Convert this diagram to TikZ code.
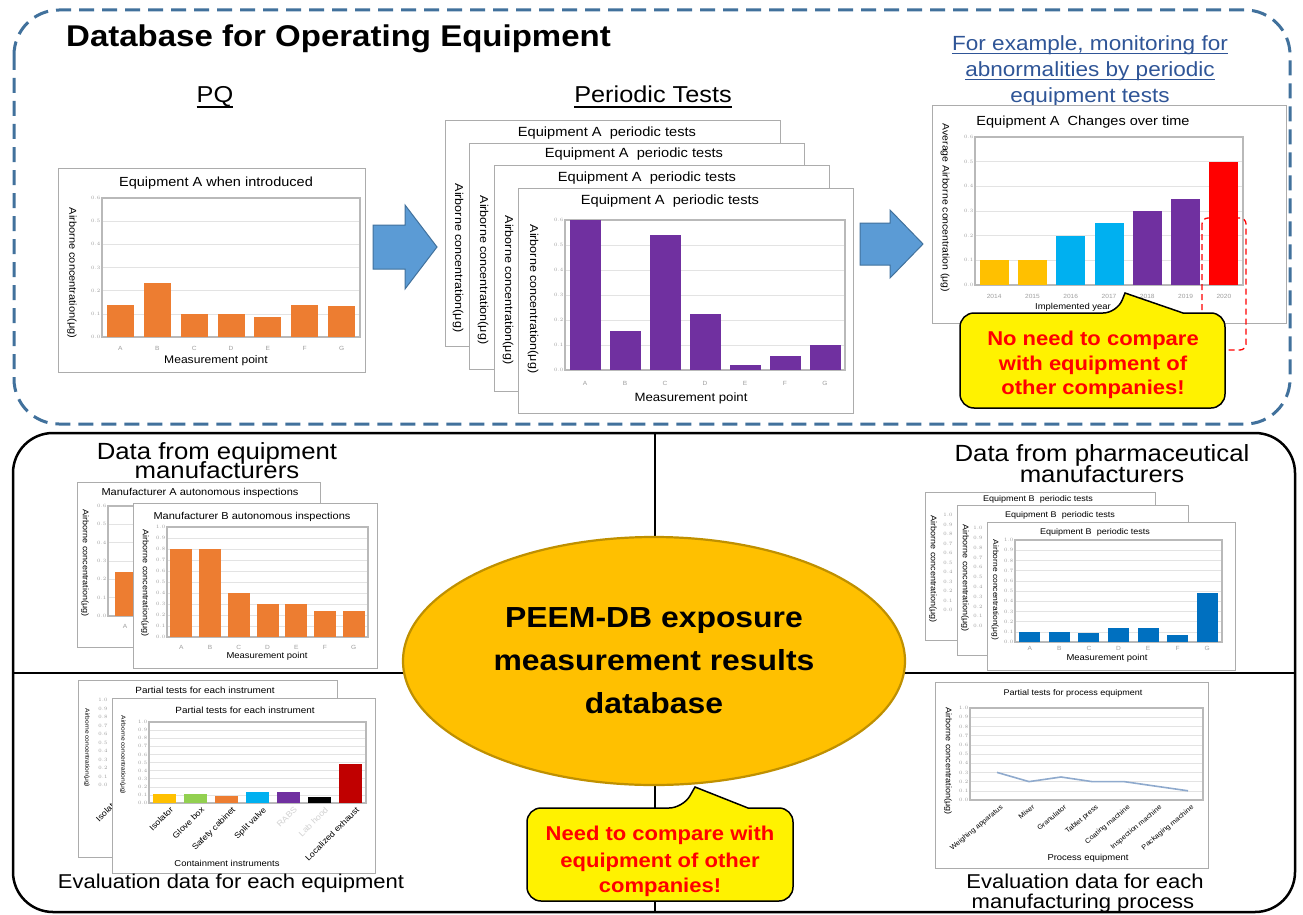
\documentclass[tikz,border=0pt]{standalone}
\usepackage{fontspec}
\setmainfont{Liberation Sans}[FakeStretch=1.1]
\usetikzlibrary{shapes.geometric}
\definecolor{dashblue}{RGB}{65,113,156}
\definecolor{arrowfill}{RGB}{91,155,213}
\definecolor{linkblue}{RGB}{47,85,151}
\definecolor{barGold}{RGB}{255,192,0}
\definecolor{golddark}{RGB}{191,144,0}
\definecolor{barorange}{RGB}{237,125,49}
\definecolor{barpurple}{RGB}{112,48,160}
\definecolor{barblue}{RGB}{0,112,192}
\definecolor{barcyan}{RGB}{0,176,240}
\definecolor{bargreen}{RGB}{146,208,80}
\definecolor{bardred}{RGB}{192,0,0}
\definecolor{linegray}{RGB}{143,170,205}
\newcommand{\fs}[1]{\fontsize{#1}{#1}\selectfont}
\tikzset{
  chartframe/.style={fill=white, draw=gray!65, line width=0.9pt},
  axisbox/.style={draw=gray!55, line width=1.2pt},
  gridl/.style={draw=gray!22, line width=0.6pt},
  ytick/.style={font=\fs{5.3}, text=gray!80, anchor=east, inner sep=1.5pt},
  xtick/.style={font=\fs{6}, text=gray!75, inner sep=0pt},
  ylab/.style={rotate=-90, inner sep=0pt},
  ctitle/.style={inner sep=0pt},
  qhead/.style={font=\fs{23.4}, anchor=base, inner sep=0pt},
  calloutbox/.style={fill=yellow, draw=black, line width=1.5pt},
  callouttext/.style={font=\bfseries\fs{20}, text=red, anchor=base, inner sep=0pt},
  blockarrow/.style={fill=arrowfill, draw=dashblue, line width=1pt},
  linktext/.style={font=\fs{20.5}, text=linkblue, anchor=base, inner sep=0pt},
  rotlab/.style={rotate=45, anchor=north east, inner sep=0pt},
}
% plot area: x0, ytop, x1, ybottom, n gridlines, step
\newcommand{\plotarea}[6]{%
  \foreach \k in {1,...,#5}{\draw[gridl] (#1,{#4-\k*(#4-#2)/#5}) -- (#3,{#4-\k*(#4-#2)/#5});}%
  \foreach \k in {0,...,#5}{\pgfmathsetmacro\tv{\k*#6}\node[ytick] (ytk-\k) at (#1,{#4-\k*(#4-#2)/#5}) {\pgfmathprintnumber[fixed,fixed zerofill,precision=1]{\tv}};}%
  \draw[axisbox] (#1,#2) rectangle (#3,#4);%
}
% bars: x0, x1, ybottom, px per unit, bar width, label offset, list value/colour/label
\newcommand{\bars}[7]{%
  \foreach \bv/\bc/\bl [count=\bi] in {#7}{%
    \pgfmathsetmacro\xc{#1+(\bi-0.5)*(#2-#1)/7}%
    \fill[\bc] ({\xc-#5/2},#3) rectangle ({\xc+#5/2},{#3-\bv*#4});%
    \node[xtick] (xtk-\bi) at (\xc,{#3+#6}) {\bl};%
  }%
}
% column of tick labels: x, ybottom, spacing, n
\newcommand{\tickcol}[4]{%
  \foreach \k in {0,...,#4}{\pgfmathsetmacro\tv{\k*0.1}\node[ytick,anchor=center] (tc-\k) at (#1,{#2-\k*#3}) {\pgfmathprintnumber[fixed,fixed zerofill,precision=1]{\tv}};}%
}
\begin{document}
\begin{tikzpicture}[x=1pt,y=-1pt]
\useasboundingbox (0,0) rectangle (1303,915);
\fill[white] (0,0) rectangle (1303,915);

% ===== top dashed section =====
\draw[draw=dashblue, line width=3pt, dash pattern=on 15pt off 8pt, rounded corners=45pt] (14,10) rectangle (1290,424);
\node[font=\bfseries\fs{30}, anchor=base west, inner sep=0pt] (title) at (66,47) {Database for Operating Equipment};

\node[font=\fs{23}, anchor=base, inner sep=0pt] (pq) at (215,103) {PQ};
\draw[line width=1.5pt] ([yshift=-4pt]pq.base west) -- ([yshift=-4pt]pq.base east);
\node[font=\fs{23}, anchor=base, inner sep=0pt] (pt) at (653,103) {Periodic Tests};
\draw[line width=1.5pt] ([yshift=-4pt]pt.base west) -- ([yshift=-4pt]pt.base east);

\node[linktext] (l1) at (1090,51) {For example, monitoring for};
\node[linktext] (l2) at (1090,77) {abnormalities by periodic};
\node[linktext] (l3) at (1090,103) {equipment tests};
\foreach \n in {l1,l2,l3}{\draw[linkblue, line width=1pt] ([yshift=-2.5pt]\n.base west) -- ([yshift=-2.5pt]\n.base east);}

% PQ chart
\draw[chartframe] (58,168) rectangle (365,372);
\node[ctitle, font=\fs{13.2}] (pqtitle) at (216,183) {Equipment A when introduced};
\plotarea{102}{198}{360}{337}{6}{0.1}
\bars{102}{360}{337}{231.7}{27}{11}{.14/barorange/A, .235/barorange/B, .10/barorange/C, .10/barorange/D, .085/barorange/E, .14/barorange/F, .135/barorange/G}
\node[ylab, font=\fs{10}] (pqy) at (72,273) {Airborne concentration(μg)};
\node[ctitle, font=\fs{11}] (pqx) at (216,361) {Measurement point};

% arrow 1
\draw[blockarrow] (373,225) -- (405,225) -- (405,205) -- (437,247) -- (405,289) -- (405,269) -- (373,269) -- cycle;

% periodic test frames
\draw[chartframe] (445,120) rectangle (780,346);
\node[ctitle, font=\fs{13.3}] (pt1) at (607,133) {Equipment A\ \ periodic tests};
\node[ylab, font=\fs{11.4}] (py1) at (458,258) {Airborne concentration(μg)};
\draw[chartframe] (469,143) rectangle (804,369);
\node[ctitle, font=\fs{13.3}] (pt2) at (634,154) {Equipment A\ \ periodic tests};
\node[ylab, font=\fs{11.4}] (py2) at (483,270) {Airborne concentration(μg)};
\draw[chartframe] (494,165) rectangle (829,391);
\node[ctitle, font=\fs{13.3}] (pt3) at (647,178) {Equipment A\ \ periodic tests};
\node[ylab, font=\fs{11.4}] (py3) at (508,290) {Airborne concentration(μg)};
\draw[chartframe] (518,188) rectangle (853,413);
\node[ctitle, font=\fs{13.3}] (pt4) at (670,201) {Equipment A\ \ periodic tests};
\node[ylab, font=\fs{11.4}] (py4) at (533,299) {Airborne concentration(μg)};
\plotarea{565}{220}{845}{370}{6}{0.1}
\bars{565}{845}{370}{250}{31}{13}{.6/barpurple/A, .155/barpurple/B, .54/barpurple/C, .225/barpurple/D, .02/barpurple/E, .055/barpurple/F, .1/barpurple/G}
\node[ctitle, font=\fs{12}] (ptx) at (691,398) {Measurement point};

% arrow 2
\draw[blockarrow] (860,223) -- (890,223) -- (890,210) -- (923,244) -- (890,278) -- (890,265) -- (860,265) -- cycle;

% changes over time chart
\draw[chartframe] (932,105) rectangle (1286,323);
\node[ctitle, font=\fs{13.2}] (ctitle) at (1083,122) {Equipment A\ \ Changes over time};
\plotarea{975}{137}{1243}{285}{6}{0.1}
\bars{975}{1243}{285}{246.7}{29}{11}{.1/barGold/2014, .1/barGold/2015, .2/barcyan/2016, .25/barcyan/2017, .3/barpurple/2018, .35/barpurple/2019, .5/red/2020}
\node[ctitle, font=\fs{8.6}] (cx) at (1073,307) {Implemented year};
\node[ylab, font=\fs{9.5}] (cy) at (945,208) {Average Airborne concentration (μg)};
\draw[red, line width=1.3pt, dash pattern=on 6pt off 4pt, rounded corners=6pt] (1202,218) rectangle (1246,350);

% top callout
\draw[calloutbox] (960,360) [rounded corners=14pt] -- (960,313) -- (1117,313) [sharp corners] -- (1125,293) -- (1183,313) [rounded corners=14pt] -- (1225,313) -- (1225,408) -- (960,408) -- cycle;
\node[callouttext] (c1a) at (1093,345) {No need to compare};
\node[callouttext] (c1b) at (1093,370) {with equipment of};
\node[callouttext] (c1c) at (1093,394) {other companies!};

% ===== bottom section =====
\coordinate (hl) at (13,673); \coordinate (hr) at (1295,673);
\coordinate (vt) at (655,433); \coordinate (vb) at (655,912);
\draw[line width=2.2pt] (hl) -- (hr);
\draw[line width=2.2pt] (vt) -- (vb);
\draw[line width=2.5pt, rounded corners=40pt] (13,433) rectangle (1295,912);

% upper-left quadrant
\node[qhead] (h1a) at (217,459) {Data from equipment};
\node[qhead] (h1b) at (217,478) {manufacturers};
\draw[chartframe] (77,482) rectangle (320,647);
\node[ctitle, font=\fs{10}] (mat) at (200,493) {Manufacturer A autonomous inspections};
\plotarea{108}{506}{320}{616}{6}{0.1}
\fill[barorange] (115,616) rectangle (136,572);
\node[xtick] (maA) at (125,626) {A};
\node[ylab, font=\fs{8.2}] (may) at (85,563) {Airborne concentration(μg)};
\draw[chartframe] (133,503) rectangle (377,668);
\node[ctitle, font=\fs{10}] (mbt) at (252,517) {Manufacturer B autonomous inspections};
\plotarea{167}{527}{368}{637}{10}{0.1}
\bars{167}{368}{637}{110}{22}{10}{.8/barorange/A, .8/barorange/B, .4/barorange/C, .3/barorange/D, .3/barorange/E, .24/barorange/F, .24/barorange/G}
\node[ctitle, font=\fs{8.6}] (mbx) at (267,656) {Measurement point};
\node[ylab, font=\fs{8.2}] (mby) at (145,583) {Airborne concentration(μg)};

% upper-right quadrant
\node[qhead] (h2a) at (1102,461) {Data from pharmaceutical};
\node[qhead] (h2b) at (1102,482) {manufacturers};
\draw[chartframe] (925,492) rectangle (1155,640);
\node[ctitle, font=\fs{8.2}] (eb1) at (1038,499) {Equipment B\ \ periodic tests};
\node[ylab, font=\fs{8.2}] (eby1) at (933,569) {Airborne concentration(μg)};
\tickcol{948}{610}{9.5}{10}
\draw[chartframe] (957,505) rectangle (1188,655);
\node[ctitle, font=\fs{8.2}] (eb2) at (1060,515) {Equipment B\ \ periodic tests};
\node[ylab, font=\fs{8.2}] (eby2) at (965,578) {Airborne concentration(μg)};
\tickcol{978}{626}{9.8}{10}
\draw[chartframe] (987,522) rectangle (1235,670);
\node[ctitle, font=\fs{8.2}] (eb3) at (1095,532) {Equipment B\ \ periodic tests};
\node[ylab, font=\fs{7.7}] (eby3) at (995,590) {Airborne concentration(μg)};
\plotarea{1015}{540}{1222}{642}{10}{0.1}
\bars{1015}{1222}{642}{102}{21}{6}{.1/barblue/A, .1/barblue/B, .09/barblue/C, .14/barblue/D, .14/barblue/E, .07/barblue/F, .48/barblue/G}
\node[ctitle, font=\fs{8.6}] (ebx) at (1107,658) {Measurement point};

% lower-left quadrant
\draw[chartframe] (78,680) rectangle (337,857);
\node[ctitle, font=\fs{9}] (pi1) at (205,690) {Partial tests for each instrument};
\node[ylab, font=\fs{6}] (piy1) at (87,748) {Airborne concentration(μg)};
\tickcol{103}{785}{8.5}{10}
\node[rotlab, font=\fs{8.2}] (iso1) at (116,797) {Isolator};
\draw[chartframe] (112,698) rectangle (375,873);
\node[ctitle, font=\fs{9}] (pi2) at (245,710) {Partial tests for each instrument};
\node[ylab, font=\fs{6}] (piy2) at (123,755) {Airborne concentration(μg)};
\plotarea{149}{722}{366}{803}{10}{0.1}
\bars{149}{366}{803}{81}{23}{0}{.11/barGold/{}, .11/bargreen/{}, .09/barorange/{}, .14/barcyan/{}, .14/barpurple/{}, .07/black/{}, .48/bardred/{}}
\foreach \i/\t/\tc in {1/Isolator/black, 2/Glove box/black, 3/Safety cabinet/black, 4/Split valve/black, 5/RABS/gray!35, 6/Lab hood/gray!35, 7/Localized exhaust/black}{
  \node[rotlab, font=\fs{8.2}, text=\tc] (ri-\i) at ({149+(\i-0.5)*31+5},806) {\t};
}
\node[ctitle, font=\fs{8.6}] (pix) at (227,863) {Containment instruments};
\node[font=\fs{20}, anchor=base, inner sep=0pt] (ev1) at (231,888) {Evaluation data for each equipment};

% lower-right quadrant
\draw[chartframe] (935,682) rectangle (1208,868);
\node[ctitle, font=\fs{8.2}] (pp) at (1073,693) {Partial tests for process equipment};
\plotarea{970}{708}{1203}{800}{10}{0.1}
\draw[linegray, line width=1.6pt] (997,772.4) -- (1029,781.6) -- (1061,777) -- (1092,781.6) -- (1124,781.6) -- (1156,786.2) -- (1188,790.8);
\foreach \i/\t in {0/Weighing apparatus, 1/Mixer, 2/Granulator, 3/Tablet press, 4/Coating machine, 5/Inspection machine, 6/Packaging machine}{
  \node[rotlab, rotate=-5, font=\fs{6.8}] (rp-\i) at ({997+\i*31.8+3},804) {\t};
}
\node[ylab, font=\fs{8.2}] (ppy) at (948,761) {Airborne concentration(μg)};
\node[ctitle, font=\fs{8.6}] (ppx) at (1088,858) {Process equipment};
\node[font=\fs{20}, anchor=base, inner sep=0pt] (ev2a) at (1085,888) {Evaluation data for each};
\node[font=\fs{20}, anchor=base, inner sep=0pt] (ev2b) at (1083,908) {manufacturing process};

% central ellipse
\node[ellipse, fill=barGold, draw=golddark, line width=2.2pt, minimum width=502pt, minimum height=248pt] (db) at (654,661) {};
\node[font=\bfseries\fs{29}, anchor=base, inner sep=0pt] (dba) at (654,627) {PEEM-DB exposure};
\node[font=\bfseries\fs{29}, anchor=base, inner sep=0pt] (dbb) at (654,670) {measurement results};
\node[font=\bfseries\fs{29}, anchor=base, inner sep=0pt] (dbc) at (654,713) {database};

% bottom callout
\draw[calloutbox] (527,855) [rounded corners=14pt] -- (527,808) -- (683,808) [sharp corners] -- (695,787) -- (748,808) [rounded corners=14pt] -- (793,808) -- (793,901) -- (527,901) -- cycle;
\node[callouttext] (c2a) at (660,840) {Need to compare with};
\node[callouttext] (c2b) at (660,867) {equipment of other};
\node[callouttext] (c2c) at (660,892) {companies!};
\end{tikzpicture}
\end{document}
